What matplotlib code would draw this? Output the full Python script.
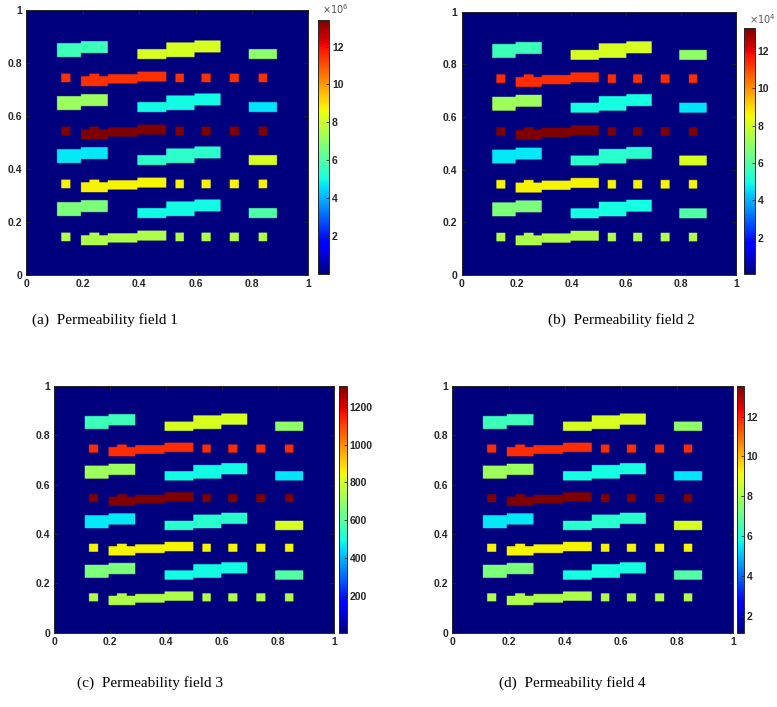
import numpy as np
import matplotlib
matplotlib.use("Agg")
import matplotlib.pyplot as plt

# ---------------- data ----------------
# vertical offsets of the eight inclusion rows (top to bottom), relative to the top row
row_offsets = [0.0, 0.0, -0.2, -0.2, -0.4, -0.4, -0.6, -0.6]
row_kind = ["A", "B", "A", "B", "A", "B", "A", "B"]

# pattern A (bar rows, top row at y~0.84): (x0, x1, y0, y1, group) group 0=left,1=middle,2=right
pattern_A = [
    (0.110, 0.195, 0.823, 0.875, 0),
    (0.195, 0.290, 0.838, 0.882, 0),
    (0.395, 0.497, 0.815, 0.853, 1),
    (0.497, 0.597, 0.823, 0.877, 1),
    (0.597, 0.690, 0.840, 0.884, 1),
    (0.790, 0.890, 0.815, 0.853, 2),
]
# pattern B (squares + stepped bar, top row at y~0.74)
pattern_B = [
    (0.125, 0.157, 0.727, 0.760),
    (0.195, 0.290, 0.713, 0.751),
    (0.225, 0.260, 0.713, 0.761),
    (0.290, 0.395, 0.723, 0.758),
    (0.395, 0.497, 0.729, 0.767),
    (0.530, 0.559, 0.727, 0.760),
    (0.622, 0.654, 0.727, 0.760),
    (0.722, 0.754, 0.727, 0.760),
    (0.824, 0.856, 0.727, 0.760),
]

# inclusion values per row (A rows: left, middle, right; B rows: single value)
field1_rows = [[5.7, 8.2, 7.0], [11.5], [7.2, 5.0, 4.7], [13.4],
               [4.75, 5.4, 8.2], [8.7], [6.7, 5.0, 6.0], [7.5]]
field1_bg = 0.0
field2_rows = [[5.65, 8.08, 6.96], [11.36], [7.16, 4.99, 4.66], [13.2],
               [4.72, 5.32, 8.08], [8.6], [6.63, 4.99, 5.97], [7.42]]
field2_bg = 0.06
field3_rows = [[560, 802, 691], [1130], [710, 494, 461], [1313],
               [468, 527, 802], [855], [658, 494, 592], [737]]
field3_bg = 3.0
field4_rows = [[6.42, 8.72, 7.66], [11.82], [7.85, 5.8, 5.49], [13.56],
               [5.55, 6.11, 8.72], [9.21], [7.35, 5.8, 6.73], [8.1]]
field4_bg = 1.14

captions = ["(a)  Permeability field 1", "(b)  Permeability field 2",
            "(c)  Permeability field 3", "(d)  Permeability field 4"]
axis_ticks = [0, 0.2, 0.4, 0.6, 0.8, 1]
axis_ticklabels = ["0", "0.2", "0.4", "0.6", "0.8", "1"]
cbar_ticks = [[2, 4, 6, 8, 10, 12], [2, 4, 6, 8, 10, 12],
              [200, 400, 600, 800, 1000, 1200], [2, 4, 6, 8, 10, 12]]
cbar_offsets = [r"$\times10^{6}$", r"$\times10^{4}$", None, None]

# ---------------- layout ----------------
W, H = 777, 707
def fr(x0, y0, x1, y1):
    return [x0 / W, 1 - y1 / H, (x1 - x0) / W, (y1 - y0) / H]

ax_pos = [fr(26.3, 10, 308.3, 275), fr(461.7, 11.7, 736, 275),
          fr(54.3, 385.7, 334.3, 632.7), fr(452.3, 385.7, 733.3, 632.7)]
cb_pos = [fr(318.3, 20, 329.3, 274), fr(744, 28.3, 755, 274),
          fr(339, 385.7, 346.7, 632.7), fr(736.7, 385.7, 744, 632.7)]
cap_pos = [(105, 320), (621, 320), (150, 683), (572, 683)]
off_pos = [(349, 9), (776, 19)]

N = 400
def build(rows, bg):
    Z = np.full((N, N), bg, dtype=float)
    xs = (np.arange(N) + 0.5) / N
    for r, kind in enumerate(row_kind):
        dy = row_offsets[r]
        vals = rows[r]
        if kind == "A":
            for (x0, x1, y0, y1, g) in pattern_A:
                mx = (xs >= x0) & (xs < x1)
                my = (xs >= y0 + dy) & (xs < y1 + dy)
                Z[np.ix_(my, mx)] = vals[g]
        else:
            for (x0, x1, y0, y1) in pattern_B:
                mx = (xs >= x0) & (xs < x1)
                my = (xs >= y0 + dy) & (xs < y1 + dy)
                Z[np.ix_(my, mx)] = vals[0]
    return Z

fields = [(field1_rows, field1_bg), (field2_rows, field2_bg),
          (field3_rows, field3_bg), (field4_rows, field4_bg)]

tick_color = "#262626"
fig = plt.figure(figsize=(W / 100, H / 100), dpi=100)
tfont = dict(family="Liberation Sans", weight="bold", size=7.5, color=tick_color)

for i, (rows, bg) in enumerate(fields):
    Z = build(rows, bg)
    vmin = bg
    vmax = max(max(r) for r in rows)
    ax = fig.add_axes(ax_pos[i])
    im = ax.imshow(Z, cmap="jet", origin="lower", extent=[0, 1, 0, 1],
                   vmin=vmin, vmax=vmax, interpolation="bilinear", aspect="auto")
    ax.set_xlim(0, 1)
    ax.set_ylim(0, 1)
    ax.set_xticks(axis_ticks)
    ax.set_yticks(axis_ticks)
    ax.set_xticklabels(axis_ticklabels, **tfont)
    ax.set_yticklabels(axis_ticklabels, **tfont)
    ax.tick_params(direction="in", length=3, width=0.6, color=tick_color,
                   top=True, right=True, pad=3)
    for s in ax.spines.values():
        s.set_linewidth(0.7)
        s.set_color(tick_color)

    cax = fig.add_axes(cb_pos[i])
    cb = fig.colorbar(im, cax=cax)
    cb.set_ticks(cbar_ticks[i])
    cb.set_ticklabels([str(t) for t in cbar_ticks[i]])
    for lab in cax.get_yticklabels():
        lab.set_fontfamily("Liberation Sans")
        lab.set_fontweight("bold")
        lab.set_fontsize(7.5)
        lab.set_color(tick_color)
    cax.tick_params(direction="in", length=2.5, width=0.6, color=tick_color, pad=2)
    cb.outline.set_linewidth(0.7)
    cb.outline.set_edgecolor(tick_color)

    if cbar_offsets[i]:
        fig.text(off_pos[i][0] / W, 1 - off_pos[i][1] / H, cbar_offsets[i],
                 ha="right", va="center", fontsize=7, color="#555555",
                 family="Liberation Sans")

    fig.text(cap_pos[i][0] / W, 1 - cap_pos[i][1] / H, captions[i],
             ha="center", va="center", fontsize=11, family="Liberation Serif",
             color="black")

fig.savefig("out.png", dpi=100)
